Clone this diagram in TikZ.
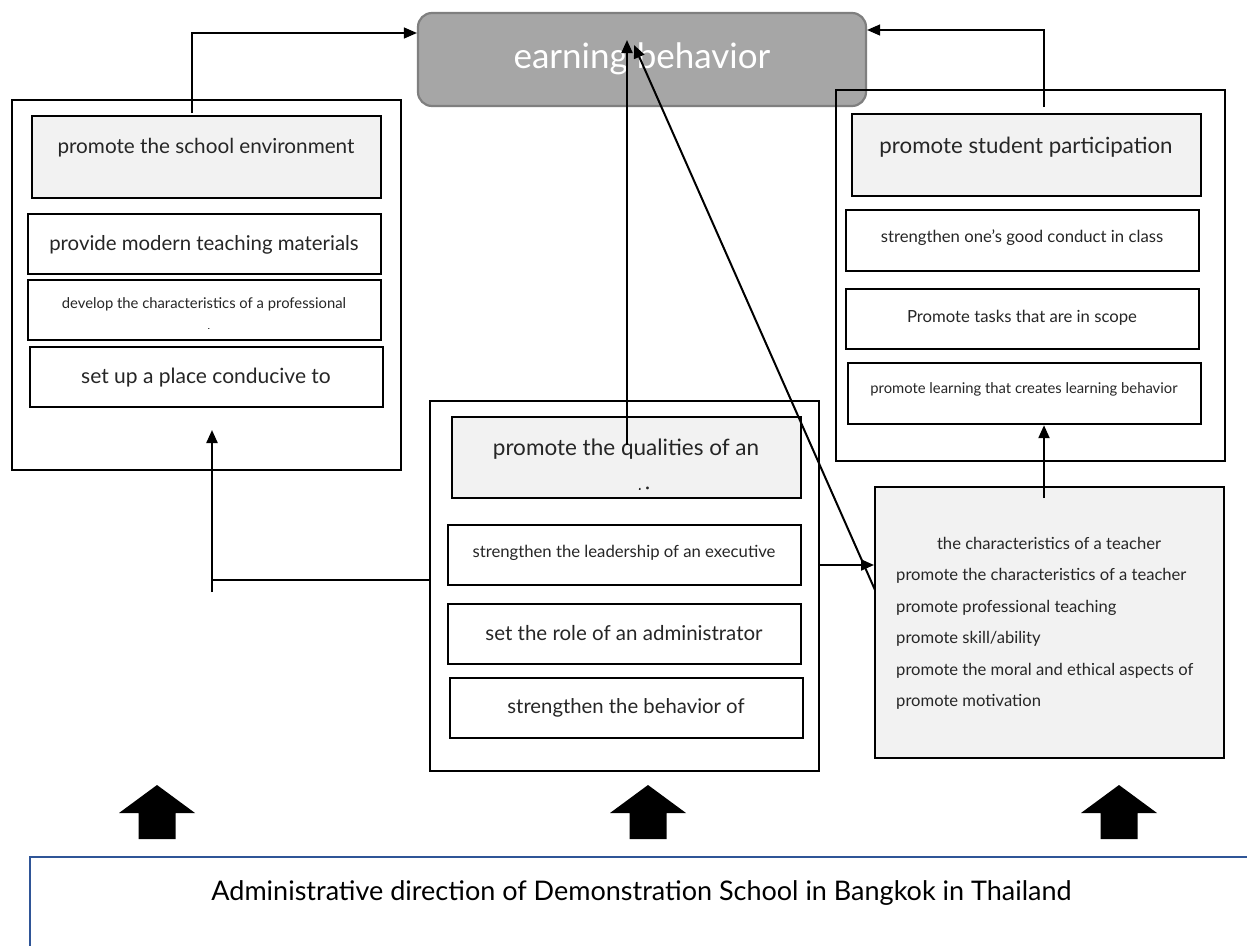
\documentclass[tikz,border=0pt]{standalone}
\usepackage{fontspec}
\setmainfont{Lato}
\usetikzlibrary{arrows.meta,fit}
\definecolor{topgray}{HTML}{A6A6A6}
\definecolor{topborder}{HTML}{7F7F7F}
\definecolor{lightfill}{HTML}{F2F2F2}
\definecolor{textgray}{HTML}{262626}
\definecolor{bluebord}{HTML}{2F5597}
\newcommand{\fs}[1]{\fontsize{#1}{#1}\selectfont}
\tikzset{
  outerbox/.style={draw, line width=2pt, inner sep=0pt},
  innerbox/.style={draw, line width=2.4pt, inner sep=0pt},
  graybox/.style={innerbox, fill=lightfill},
  txt/.style={inner sep=0pt, anchor=base, text=textgray},
  ltxt/.style={inner sep=0pt, anchor=base west, text=textgray},
  conn/.style={line width=1.6pt, -{Triangle[length=13pt,width=11pt]}},
  plain/.style={line width=1.3pt},
  blockarrow/.style={fill=black},
}
\begin{document}
\begin{tikzpicture}[x=1pt,y=-1pt]
\useasboundingbox (0,0) rectangle (1247,945);
\clip (0,0) rectangle (1247,945);
\fill[white] (0,0) rectangle (1247,945);

% top node
\node[draw=topborder, fill=topgray, line width=2.2pt, rounded corners=14pt, inner sep=0pt, fit={(418,13)(866,106)}] (top) {};
\node[txt, text=white, font=\fs{35}] (toptxt) at (642,68) {earning behavior};

% left group
\node[outerbox, fit={(12,100)(401,470)}] (L) {};
\node[graybox, fit={(32,116)(381,198)}] (L1) {};
\node[txt, font=\fs{20.7}] (L1t) at (206,153) {promote the school environment};
\node[innerbox, fit={(28,214)(381,274)}] (L2) {};
\node[txt, font=\fs{20.4}] (L2t) at (204,250) {provide modern teaching materials};
\node[innerbox, fit={(28,280)(381,340)}] (L3) {};
\node[txt, font=\fs{14.8}] (L3t) at (204,308) {develop the characteristics of a professional};
\begin{scope}
\clip (30,282) rectangle (379,328.5);
\node[txt, font=\fs{14.8}] (L3u) at (204,339) {teacher};
\end{scope}
\node[innerbox, fit={(30,347)(383,407)}] (L4) {};
\node[txt, font=\fs{21}] (L4t) at (206,383) {set up a place conducive to};

% middle group
\node[outerbox, fit={(430,401)(819,771)}] (M) {};
\node[graybox, fit={(452,417)(801,498)}] (M1) {};
\node[txt, font=\fs{22.5}] (M1t) at (626,455) {promote the qualities of an};
\begin{scope}
\clip (454,419) rectangle (799,489);
\node[txt, font=\fs{22.5}] (M1u) at (626,503.5) {executive};
\end{scope}
\node[innerbox, fit={(448,525)(801,585)}] (M2) {};
\node[txt, font=\fs{16.7}] (M2t) at (624,557) {strengthen the leadership of an executive};
\node[innerbox, fit={(448,604)(801,664)}] (M3) {};
\node[txt, font=\fs{20.5}] (M3t) at (624,640) {set the role of an administrator};
\node[innerbox, fit={(450,678)(803,738)}] (M4) {};
\node[txt, font=\fs{20.3}] (M4t) at (626,713) {strengthen the behavior of};

% right group
\node[outerbox, fit={(836,90)(1225,461)}] (R) {};
\node[graybox, fit={(852,114)(1201,196)}] (R1) {};
\node[txt, font=\fs{22.3}] (R1t) at (1026,153) {promote student participation};
\node[innerbox, fit={(846,210)(1199,271)}] (R2) {};
\node[txt, font=\fs{16.7}] (R2t) at (1022,242) {strengthen one's good conduct in class};
\node[innerbox, fit={(846,289)(1199,349)}] (R3) {};
\node[txt, font=\fs{16.7}] (R3t) at (1022,322) {Promote tasks that are in scope};
\node[innerbox, fit={(848,363)(1201,424)}] (R4) {};
\node[txt, font=\fs{14.8}] (R4t) at (1024,393) {promote learning that creates learning behavior};

% characteristics box
\node[graybox, line width=2pt, fit={(875,487)(1224,758)}] (C) {};
\node[txt, font=\fs{16.6}] (C0) at (1049,549) {the characteristics of a teacher};
\node[ltxt, font=\fs{16.6}] (C1) at (896,580) {promote the characteristics of a teacher};
\node[ltxt, font=\fs{16.6}] (C2) at (896,612) {promote professional teaching};
\node[ltxt, font=\fs{16.6}] (C3) at (896,643) {promote skill/ability};
\node[ltxt, font=\fs{16.6}] (C4) at (896,675) {promote the moral and ethical aspects of};
\node[ltxt, font=\fs{16.6}] (C5) at (896,706) {promote motivation};

% connectors
\coordinate (lstart) at (192,113);
\coordinate (rstart) at (1044,107);
\draw[conn, line width=1.3pt] (lstart) |- (top.west |- 0,33);
\draw[conn, line width=1.3pt] (rstart) |- (top.east |- 0,30);
\coordinate (mstart) at (627,445);
\draw[conn, line width=2.2pt] (mstart) -- (627,40);
\coordinate (dstart) at (875,590);
\draw[conn, line width=2pt] (dstart) -- (634,45);
\draw[conn, line width=2pt] (M.east |- 0,565) -- (C.west |- 0,565);
\coordinate (lbend) at (212,580);
\coordinate (lfoot) at (212,592);
\draw[plain] (M.west |- 0,580) -- (lbend);
\draw[conn, line width=2.2pt] (lfoot) -- (212,430);
\coordinate (cstart) at (1044,498);
\draw[conn, line width=2.2pt] (cstart) -- (R4.south -| cstart);

% block arrows
\foreach \cx in {157,648,1119}{
  \fill[blockarrow] (\cx-18.5,839) -- (\cx-18.5,813) -- (\cx-38,813) -- (\cx,785) -- (\cx+38,813) -- (\cx+18.5,813) -- (\cx+18.5,839) -- cycle;
}

% bottom box
\node[draw=bluebord, line width=2.2pt, inner sep=0pt, fit={(30,857)(1270,990)}] (B) {};
\node[txt, text=black, font=\fs{27}] (Bt) at (641.5,900) {Administrative direction of Demonstration School in Bangkok in Thailand};
\end{tikzpicture}
\end{document}
